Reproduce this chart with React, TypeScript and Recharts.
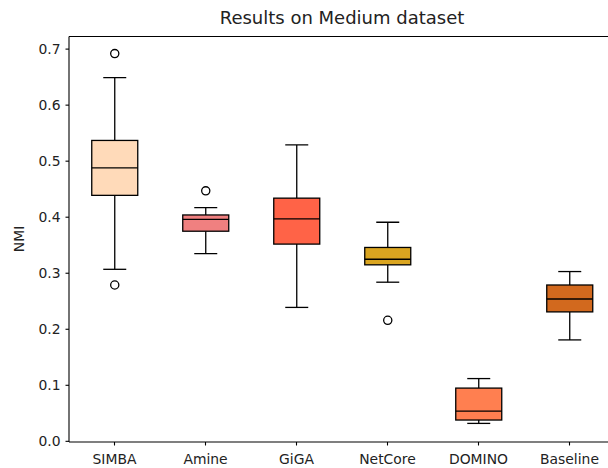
import React from 'react';
import { ComposedChart, Bar, XAxis, YAxis, ReferenceLine } from 'recharts';

const categories = ['SIMBA', 'Amine', 'GiGA', 'NetCore', 'DOMINO', 'Baseline'];
const whiskerLow = [0.307, 0.335, 0.239, 0.284, 0.032, 0.181];
const q1 = [0.439, 0.375, 0.352, 0.315, 0.038, 0.231];
const median = [0.488, 0.396, 0.397, 0.325, 0.054, 0.254];
const q3 = [0.537, 0.404, 0.434, 0.346, 0.095, 0.279];
const whiskerHigh = [0.649, 0.417, 0.529, 0.391, 0.112, 0.303];
const outliers: number[][] = [[0.692, 0.279], [0.447], [], [0.216], [], []];
const colors = ['#FFDAB9', '#F08080', '#FF6347', '#DAA520', '#FF7F50', '#D2691E'];
const yTicks = [0, 0.1, 0.2, 0.3, 0.4, 0.5, 0.6, 0.7];

const Y_MIN = -0.0012;
const Y_MAX = 0.7225;

const data = categories.map((name, i) => ({
  name,
  low: whiskerLow[i],
  q1: q1[i],
  median: median[i],
  q3: q3[i],
  high: whiskerHigh[i],
  outliers: outliers[i],
  color: colors[i],
}));

const BoxShape = (props: any) => {
  const { x, y, width, height, payload } = props;
  if (payload == null) return null;
  const lo = payload.low;
  const hi = payload.high;
  const bottom = y + height;
  const pix = (v: number) => bottom - ((v - lo) / (hi - lo)) * height;
  const cx = x + width / 2;
  const capHalf = width / 4;
  const sw = 1.3;
  return (
    <g>
      <line x1={cx} x2={cx} y1={pix(hi)} y2={pix(payload.q3)} stroke="#000" strokeWidth={sw} />
      <line x1={cx} x2={cx} y1={pix(payload.q1)} y2={pix(lo)} stroke="#000" strokeWidth={sw} />
      <line x1={cx - capHalf} x2={cx + capHalf} y1={pix(hi)} y2={pix(hi)} stroke="#000" strokeWidth={sw} />
      <line x1={cx - capHalf} x2={cx + capHalf} y1={pix(lo)} y2={pix(lo)} stroke="#000" strokeWidth={sw} />
      <rect
        x={x}
        y={pix(payload.q3)}
        width={width}
        height={pix(payload.q1) - pix(payload.q3)}
        fill={payload.color}
        stroke="#000"
        strokeWidth={sw}
      />
      <line x1={x} x2={x + width} y1={pix(payload.median)} y2={pix(payload.median)} stroke="#000" strokeWidth={sw} />
      {payload.outliers.map((o: number, k: number) => (
        <circle key={k} cx={cx} cy={pix(o)} r={4.1} fill="none" stroke="#000" strokeWidth={1.3} />
      ))}
    </g>
  );
};

const font = 'DejaVu Sans';

export default function App() {
  return (
    <div style={{ position: 'absolute', left: 0, top: 0, width: 608, height: 468, overflow: 'hidden', background: '#fff' }}>
      <ComposedChart
        width={620}
        height={468}
        data={data}
        margin={{ top: 36.5, right: 5, bottom: 0, left: 0 }}
        barCategoryGap="25%"
      >
        <XAxis
          dataKey="name"
          height={26}
          axisLine={{ stroke: '#000', strokeWidth: 1.1 }}
          tickLine={{ stroke: '#000', strokeWidth: 1.1 }}
          tickSize={3.5}
          tickMargin={9}
          tick={{ fill: '#222', fontSize: 13.9, fontFamily: font }}
          interval={0}
        />
        <YAxis
          width={69}
          domain={[Y_MIN, Y_MAX]}
          ticks={yTicks}
          allowDataOverflow
          tickFormatter={(v: number) => v.toFixed(1)}
          axisLine={{ stroke: '#000', strokeWidth: 1.1 }}
          tickLine={{ stroke: '#000', strokeWidth: 1.1 }}
          tickSize={3.5}
          tickMargin={5}
          tick={{ fill: '#222', fontSize: 13.9, fontFamily: font }}
        />
        <ReferenceLine y={Y_MAX} stroke="#000" strokeWidth={1.1} ifOverflow="visible" />
        <Bar
          dataKey={(d: any) => [d.low, d.high]}
          shape={<BoxShape />}
          isAnimationActive={false}
        />
      </ComposedChart>
      <div
        style={{
          position: 'absolute',
          left: 342,
          top: 5,
          transform: 'translateX(-50%)',
          whiteSpace: 'nowrap',
          fontFamily: font,
          fontSize: 18,
          color: '#222',
          lineHeight: '26px',
        }}
      >
        Results on Medium dataset
      </div>
      <div
        style={{
          position: 'absolute',
          left: 19,
          top: 239,
          transform: 'translate(-50%, -50%) rotate(-90deg)',
          whiteSpace: 'nowrap',
          fontFamily: font,
          fontSize: 13.9,
          color: '#222',
          lineHeight: '16px',
        }}
      >
        NMI
      </div>
    </div>
  );
}
